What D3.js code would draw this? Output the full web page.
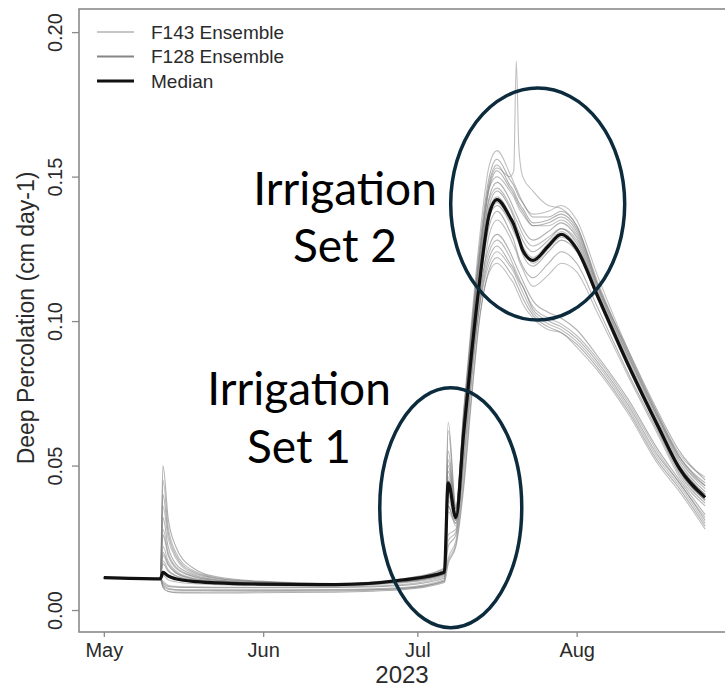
<!DOCTYPE html>
<html>
<head>
<meta charset="utf-8">
<script src="https://cdn.jsdelivr.net/npm/d3@7"></script>
<style>
  body { margin: 0; background: #fff; }
  svg { display: block; }
</style>
</head>
<body>
<svg id="chart" width="725" height="690"></svg>
<script>
// Sample times shared by every series (UTC)
const sampleTimes = [
  "2023-05-01T00:00","2023-05-12T00:00","2023-05-12T12:00","2023-05-13T12:00",
  "2023-05-15T00:00","2023-05-18T00:00","2023-05-23T00:00","2023-05-31T00:00",
  "2023-06-15T00:00","2023-06-28T00:00","2023-07-06T06:00","2023-07-07T00:00",
  "2023-07-08T12:00","2023-07-10T00:00","2023-07-11T12:00","2023-07-13T00:00",
  "2023-07-15T00:00","2023-07-16T12:00","2023-07-19T00:00","2023-07-19T18:00",
  "2023-07-20T06:00","2023-07-20T18:00","2023-07-21T12:00","2023-07-23T12:00",
  "2023-07-26T12:00","2023-07-29T00:00","2023-08-01T00:00","2023-08-05T00:00",
  "2023-08-11T00:00","2023-08-17T00:00","2023-08-21T00:00","2023-08-26T00:00"
];

// Ensemble median deep percolation (cm/day)
const medianValues = [
  0.0112,0.0108,0.0130,0.0118,0.0108,0.0100,0.0094,0.0090,0.0088,0.0104,0.0131,
  0.0440,0.0320,0.0610,0.0880,0.1120,0.1370,0.1420,
  0.1360,0.1335,0.1310,0.1285,0.1245,0.1210,
  0.1260,0.1300,0.1250,0.1090,0.0850,0.0630,0.0490,0.0390
];

// F128 ensemble members
const f128Members = [
  [0.0112,0.0108,0.050,0.032,0.022,0.015,0.0115,0.0100,0.0092,0.0108,0.0145, 0.065,0.036,0.068,0.097,0.124,0.150,0.156, 0.149,0.147,0.145,0.143,0.141,0.136, 0.136,0.138,0.133,0.113,0.090,0.068,0.055,0.045],
  [0.0112,0.0108,0.032,0.022,0.016,0.0125,0.0105,0.0095,0.0090,0.0104,0.0138, 0.050,0.034,0.066,0.095,0.121,0.146,0.152, 0.146,0.144,0.142,0.140,0.138,0.133, 0.134,0.136,0.131,0.112,0.088,0.066,0.053,0.044],
  [0.0112,0.0108,0.020,0.016,0.0130,0.0110,0.0098,0.0092,0.0088,0.0100,0.0128, 0.040,0.031,0.062,0.090,0.115,0.140,0.145, 0.139,0.136,0.133,0.131,0.128,0.124, 0.128,0.132,0.127,0.110,0.086,0.064,0.050,0.040],
  [0.0112,0.0108,0.0085,0.0072,0.0069,0.0068,0.0068,0.0068,0.0069,0.0075,0.0100, 0.022,0.026,0.050,0.080,0.104,0.122,0.126, 0.120,0.118,0.116,0.114,0.112,0.104, 0.100,0.098,0.094,0.086,0.071,0.053,0.044,0.031],
  [0.0112,0.0108,0.040,0.027,0.019,0.0135,0.0110,0.0098,0.0090,0.0105,0.0135, 0.048,0.033,0.062,0.089,0.113,0.136,0.140, 0.134,0.131,0.129,0.127,0.123,0.119, 0.124,0.128,0.124,0.108,0.084,0.062,0.048,0.038],
  [0.0112,0.0108,0.0095,0.0082,0.0079,0.0078,0.0077,0.0077,0.0078,0.0085,0.0110, 0.036,0.030,0.058,0.085,0.108,0.126,0.130, 0.124,0.121,0.119,0.117,0.114,0.107, 0.103,0.101,0.097,0.088,0.073,0.055,0.045,0.033],
  [0.0112,0.0108,0.026,0.019,0.0145,0.0118,0.0102,0.0094,0.0089,0.0102,0.0132, 0.052,0.035,0.064,0.093,0.118,0.143,0.148, 0.142,0.139,0.137,0.135,0.132,0.128, 0.131,0.134,0.129,0.111,0.087,0.065,0.051,0.041],
  [0.0112,0.0108,0.013,0.0115,0.0105,0.0098,0.0092,0.0088,0.0086,0.0096,0.0122, 0.042,0.031,0.060,0.087,0.110,0.133,0.138, 0.131,0.128,0.125,0.122,0.119,0.115, 0.120,0.124,0.120,0.105,0.082,0.061,0.047,0.037],
  [0.0112,0.0108,0.0080,0.0064,0.0060,0.0059,0.0059,0.0060,0.0062,0.0070,0.0095, 0.016,0.022,0.042,0.072,0.099,0.118,0.122, 0.117,0.115,0.113,0.111,0.108,0.102, 0.098,0.096,0.092,0.084,0.069,0.051,0.042,0.029],
  [0.0112,0.0108,0.016,0.0135,0.0118,0.0104,0.0095,0.0090,0.0087,0.0098,0.0125, 0.055,0.035,0.067,0.096,0.122,0.148,0.154, 0.147,0.145,0.143,0.141,0.139,0.134, 0.135,0.137,0.132,0.113,0.089,0.067,0.053,0.043]
];

// F143 ensemble members
const f143Members = [
  [0.0112,0.0108,0.022,0.017,0.0135,0.0112,0.0100,0.0093,0.0089,0.0101,0.0130, 0.038,0.031,0.063,0.093,0.119,0.147,0.153, 0.150,0.152,0.190,0.160,0.150,0.145, 0.140,0.139,0.133,0.114,0.089,0.066,0.052,0.042],
  [0.0112,0.0108,0.045,0.029,0.020,0.014,0.0112,0.0099,0.0091,0.0106,0.0142, 0.062,0.035,0.069,0.099,0.127,0.154,0.159, 0.151,0.148,0.146,0.144,0.141,0.137, 0.138,0.140,0.135,0.116,0.090,0.067,0.054,0.046],
  [0.0112,0.0108,0.017,0.014,0.0120,0.0105,0.0096,0.0091,0.0088,0.0099,0.0126, 0.024,0.027,0.052,0.082,0.104,0.120,0.124, 0.119,0.117,0.115,0.113,0.110,0.103, 0.099,0.097,0.093,0.085,0.070,0.052,0.043,0.030],
  [0.0112,0.0108,0.0100,0.0086,0.0082,0.0080,0.0079,0.0079,0.0080,0.0088,0.0115, 0.018,0.024,0.046,0.078,0.104,0.130,0.135, 0.129,0.126,0.124,0.121,0.118,0.112, 0.116,0.120,0.117,0.103,0.081,0.060,0.046,0.036],
  [0.0112,0.0108,0.036,0.025,0.018,0.013,0.0108,0.0097,0.0090,0.0104,0.0136, 0.046,0.033,0.063,0.091,0.115,0.139,0.143, 0.137,0.134,0.132,0.129,0.126,0.122, 0.127,0.131,0.126,0.109,0.085,0.063,0.049,0.039],
  [0.0112,0.0108,0.019,0.0155,0.0128,0.0108,0.0097,0.0091,0.0087,0.0098,0.0124, 0.026,0.028,0.054,0.083,0.106,0.124,0.128, 0.122,0.119,0.117,0.115,0.112,0.105, 0.101,0.099,0.095,0.087,0.072,0.054,0.044,0.032],
  [0.0112,0.0108,0.0090,0.0075,0.0071,0.0070,0.0070,0.0070,0.0071,0.0078,0.0105, 0.034,0.030,0.063,0.094,0.120,0.146,0.150, 0.145,0.143,0.141,0.139,0.137,0.133, 0.133,0.135,0.130,0.112,0.088,0.066,0.052,0.043],
  [0.0112,0.0108,0.028,0.020,0.015,0.012,0.0103,0.0094,0.0089,0.0103,0.0134, 0.045,0.032,0.061,0.089,0.113,0.137,0.141, 0.135,0.132,0.130,0.128,0.125,0.120, 0.125,0.129,0.125,0.108,0.084,0.062,0.048,0.038],
  [0.0112,0.0108,0.012,0.0105,0.0098,0.0092,0.0088,0.0085,0.0084,0.0094,0.0118, 0.017,0.023,0.044,0.074,0.100,0.117,0.120, 0.115,0.113,0.111,0.109,0.106,0.101, 0.097,0.096,0.091,0.083,0.068,0.050,0.041,0.028],
  [0.0112,0.0108,0.0078,0.0065,0.0062,0.0062,0.0063,0.0064,0.0066,0.0074,0.0100, 0.036,0.029,0.062,0.091,0.116,0.142,0.146, 0.140,0.137,0.135,0.133,0.130,0.126, 0.129,0.132,0.128,0.110,0.086,0.064,0.050,0.040]
];

// Axis ticks and labels
const monthTicks = ["2023-05-01T00:00","2023-06-01T00:00","2023-07-01T00:00","2023-08-01T00:00"];
const monthLabels = ["May","Jun","Jul","Aug"];
const yTickValues = [0.00, 0.05, 0.10, 0.15, 0.20];
const yearLabel = "2023";
const yAxisTitle = "Deep Percolation (cm day-1)";
const legendLabels = ["F143 Ensemble", "F128 Ensemble", "Median"];
const set1Lines = ["Irrigation", "Set 1"];
const set2Lines = ["Irrigation", "Set 2"];

// ---------------------------------------------------------------
const parseTime = d3.utcParse("%Y-%m-%dT%H:%M");
const times = sampleTimes.map(parseTime);

const svg = d3.select("#chart");
const plot = { left: 79, right: 736, top: 9, bottom: 632 };

const x = d3.scaleUtc()
  .domain([parseTime("2023-04-26T04:00"), parseTime("2023-09-01T00:00")])
  .range([plot.left, plot.right]);

const y = d3.scaleLinear()
  .domain([-0.0076, 0.208])
  .range([plot.bottom, plot.top]);

const colors = { f143: "#a9a9a9", f128: "#7d7d7d", median: "#111111" };
const FONT = "'Liberation Sans', Arial, sans-serif";

svg.append("defs").append("clipPath").attr("id", "plotClip")
  .append("rect")
  .attr("x", plot.left).attr("y", plot.top)
  .attr("width", plot.right - plot.left).attr("height", plot.bottom - plot.top);

const line = d3.line()
  .x((d, i) => x(times[i]))
  .y(d => y(d))
  .curve(d3.curveMonotoneX);

const series = svg.append("g").attr("clip-path", "url(#plotClip)");

series.selectAll("path.f143")
  .data(f143Members)
  .join("path")
  .attr("class", "f143")
  .attr("d", line)
  .attr("fill", "none")
  .attr("stroke", colors.f143)
  .attr("stroke-opacity", 0.75)
  .attr("stroke-width", 1.1);

series.selectAll("path.f128")
  .data(f128Members)
  .join("path")
  .attr("class", "f128")
  .attr("d", line)
  .attr("fill", "none")
  .attr("stroke", colors.f128)
  .attr("stroke-opacity", 0.6)
  .attr("stroke-width", 1.1);

series.append("path")
  .datum(medianValues)
  .attr("d", line)
  .attr("fill", "none")
  .attr("stroke", colors.median)
  .attr("stroke-width", 3.2)
  .attr("stroke-linejoin", "round");

// Plot frame
svg.append("rect")
  .attr("x", plot.left).attr("y", plot.top)
  .attr("width", plot.right - plot.left).attr("height", plot.bottom - plot.top)
  .attr("fill", "none")
  .attr("stroke", "#8a8a8a")
  .attr("stroke-width", 1.6);

// Y axis
const yAxis = svg.append("g")
  .attr("transform", `translate(${plot.left},0)`)
  .call(d3.axisLeft(y).tickValues(yTickValues).tickSize(7).tickFormat(d3.format(".2f")));
yAxis.select(".domain").remove();
yAxis.selectAll(".tick line").attr("stroke", "#8a8a8a").attr("stroke-width", 1.3);
yAxis.selectAll(".tick text")
  .attr("transform", "rotate(-90)")
  .attr("x", 0).attr("y", -17).attr("dy", 0)
  .attr("text-anchor", "middle")
  .attr("font-family", FONT).attr("font-size", 20)
  .attr("fill", "#2a2a2a");

// X axis
const xAxis = svg.append("g")
  .attr("transform", `translate(0,${plot.bottom})`)
  .call(d3.axisBottom(x).tickValues(monthTicks.map(parseTime)).tickSize(5)
    .tickFormat((d, i) => monthLabels[i]));
xAxis.select(".domain").remove();
xAxis.selectAll(".tick line").attr("stroke", "#8a8a8a").attr("stroke-width", 1.3);
xAxis.selectAll(".tick text")
  .attr("y", 25).attr("dy", 0)
  .attr("font-family", FONT).attr("font-size", 20)
  .attr("fill", "#2a2a2a");

svg.append("text")
  .attr("x", 402).attr("y", 683)
  .attr("text-anchor", "middle")
  .attr("font-family", FONT).attr("font-size", 24)
  .attr("fill", "#2a2a2a")
  .text(yearLabel);

svg.append("text")
  .attr("transform", "translate(34,318) rotate(-90)")
  .attr("text-anchor", "middle")
  .attr("font-family", FONT).attr("font-size", 23)
  .attr("fill", "#2a2a2a")
  .text(yAxisTitle);

// Legend
const legend = svg.append("g");
const legendStyles = [
  { stroke: "#b3b3b3", width: 1.6 },
  { stroke: "#858585", width: 1.8 },
  { stroke: "#111111", width: 3 }
];
legendLabels.forEach((label, i) => {
  const ly = 32 + i * 24.5;
  legend.append("line")
    .attr("x1", 97).attr("x2", 134).attr("y1", ly).attr("y2", ly)
    .attr("stroke", legendStyles[i].stroke)
    .attr("stroke-width", legendStyles[i].width);
  legend.append("text")
    .attr("x", 151).attr("y", ly).attr("dy", "0.36em")
    .attr("font-family", FONT).attr("font-size", 19)
    .attr("fill", "#2a2a2a")
    .text(label);
});

// Irrigation annotations
const note = svg.append("g").attr("font-family", "Lato, 'Open Sans', sans-serif")
  .attr("font-size", 46).attr("fill", "#000").attr("text-anchor", "middle");

note.selectAll("text.s2").data(set2Lines).join("text")
  .attr("class", "s2")
  .attr("x", 345).attr("y", (d, i) => 205 + i * 57)
  .text(d => d);

note.selectAll("text.s1").data(set1Lines).join("text")
  .attr("class", "s1")
  .attr("x", 299).attr("y", (d, i) => 405 + i * 58)
  .text(d => d);

const ringColor = "#0c2c3e";
svg.append("ellipse")
  .attr("cx", x(parseTime("2023-07-24T10:00"))).attr("cy", y(0.1405))
  .attr("rx", 87).attr("ry", 116)
  .attr("fill", "none").attr("stroke", ringColor).attr("stroke-width", 3.5);

svg.append("ellipse")
  .attr("cx", x(parseTime("2023-07-07T12:00"))).attr("cy", y(0.0354))
  .attr("rx", 71).attr("ry", 120)
  .attr("fill", "none").attr("stroke", ringColor).attr("stroke-width", 3.5);
</script>
</body>
</html>
